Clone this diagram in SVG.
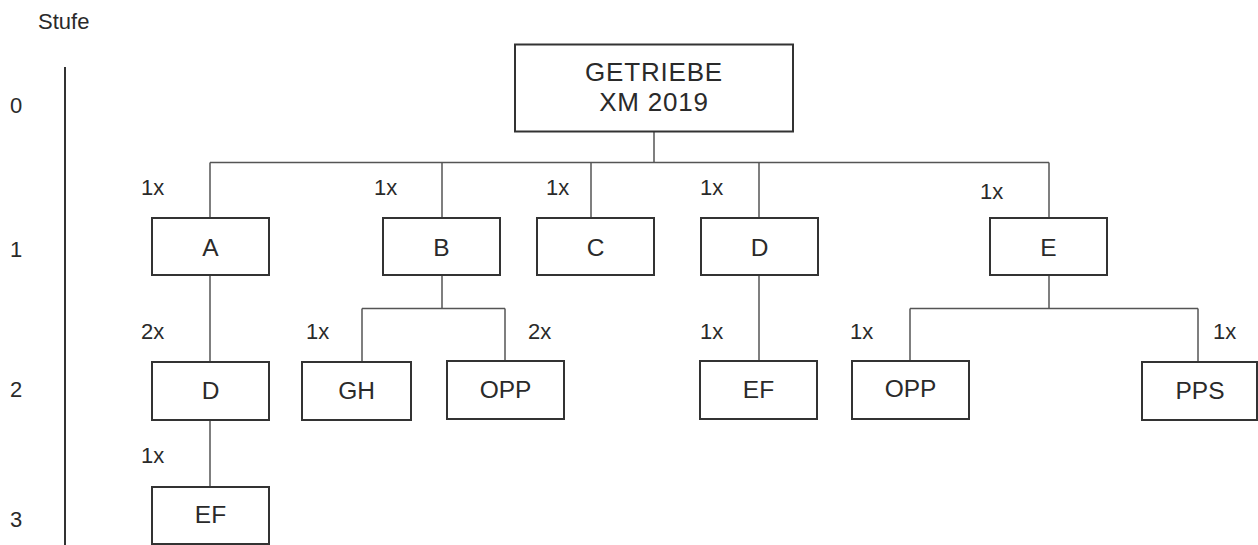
<svg xmlns="http://www.w3.org/2000/svg" width="1258" height="545" viewBox="0 0 1258 545">
<style>
  text { font-family: "Liberation Sans", Arial, sans-serif; fill: #2a2a2a; }
  .lbl { font-size: 22px; }
  .box { fill: #ffffff; stroke: #333333; stroke-width: 2; }
  .bt { font-size: 24.5px; text-anchor: middle; }
  .rt { font-size: 26px; text-anchor: middle; letter-spacing: 0.8px; }
  .con { fill: none; stroke: #555555; stroke-width: 1.5; }
</style>
<rect width="1258" height="545" fill="#ffffff"/>

<g id="axis">
  <text class="lbl" x="38" y="29">Stufe</text>
  <line x1="65" y1="67" x2="65" y2="545" stroke="#333333" stroke-width="2"/>
  <text class="lbl" x="16" y="113" text-anchor="middle">0</text>
  <text class="lbl" x="16" y="257" text-anchor="middle">1</text>
  <text class="lbl" x="16" y="397" text-anchor="middle">2</text>
  <text class="lbl" x="16" y="527" text-anchor="middle">3</text>
</g>

<g id="connectors">
  <path class="con" d="M654 131 V162.5 M210 162.5 H1049 M210 162.5 V218 M442 162.5 V218 M591 162.5 V218 M759 162.5 V218 M1049 162.5 V218"/>
  <path class="con" d="M210 275 V362 M210 420 V487"/>
  <path class="con" d="M442 275 V308.5 M362 308.5 H505 M362 308.5 V362 M505 308.5 V361"/>
  <path class="con" d="M759 275 V361"/>
  <path class="con" d="M1049 275 V308.5 M910 308.5 H1198 M910 308.5 V361 M1198 308.5 V362"/>
</g>

<g id="labels">
  <text class="lbl" x="141" y="195">1x</text>
  <text class="lbl" x="374" y="195">1x</text>
  <text class="lbl" x="546" y="195">1x</text>
  <text class="lbl" x="700" y="195">1x</text>
  <text class="lbl" x="980" y="199">1x</text>
  <text class="lbl" x="141" y="339">2x</text>
  <text class="lbl" x="306" y="339">1x</text>
  <text class="lbl" x="528" y="339">2x</text>
  <text class="lbl" x="700" y="339">1x</text>
  <text class="lbl" x="850" y="339">1x</text>
  <text class="lbl" x="1213" y="339">1x</text>
  <text class="lbl" x="141" y="463">1x</text>
</g>

<g id="node-root">
  <rect class="box" x="515" y="44.5" width="278" height="87"/>
  <text class="rt" x="654" y="81">GETRIEBE</text>
  <text class="rt" x="654" y="110.5">XM 2019</text>
</g>
<g id="node-A"><rect class="box" x="152" y="218" width="117" height="57"/><text class="bt" x="210.5" y="256">A</text></g>
<g id="node-B"><rect class="box" x="383" y="218" width="117" height="57"/><text class="bt" x="441.5" y="256">B</text></g>
<g id="node-C"><rect class="box" x="537" y="218" width="117" height="57"/><text class="bt" x="595.5" y="256">C</text></g>
<g id="node-D"><rect class="box" x="701" y="218" width="117" height="57"/><text class="bt" x="759.5" y="256">D</text></g>
<g id="node-E"><rect class="box" x="990" y="218" width="117" height="57"/><text class="bt" x="1048.5" y="256">E</text></g>

<g id="node-A-D"><rect class="box" x="152" y="362" width="117" height="58"/><text class="bt" x="210.5" y="399">D</text></g>
<g id="node-B-GH"><rect class="box" x="302" y="362" width="109" height="58"/><text class="bt" x="356.5" y="399">GH</text></g>
<g id="node-B-OPP"><rect class="box" x="447" y="361" width="117" height="58"/><text class="bt" x="505.5" y="398">OPP</text></g>
<g id="node-D-EF"><rect class="box" x="700" y="361" width="117" height="58"/><text class="bt" x="758.5" y="398">EF</text></g>
<g id="node-E-OPP"><rect class="box" x="852" y="361" width="117" height="58"/><text class="bt" x="910.5" y="397">OPP</text></g>
<g id="node-E-PPS"><rect class="box" x="1142" y="362" width="115" height="58"/><text class="bt" x="1200" y="399">PPS</text></g>

<g id="node-A-D-EF"><rect class="box" x="152" y="487" width="117" height="57"/><text class="bt" x="210.5" y="523">EF</text></g>
</svg>
